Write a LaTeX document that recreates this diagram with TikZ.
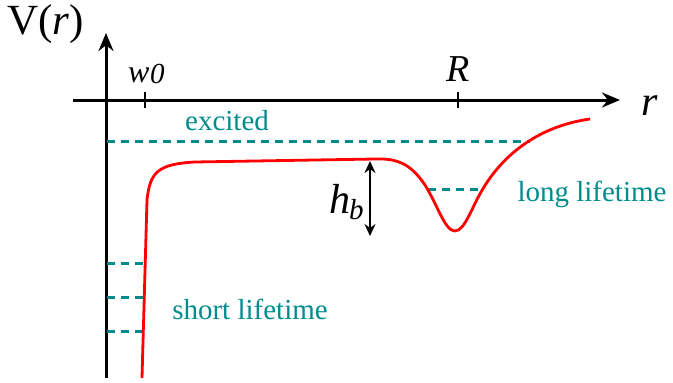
\documentclass[tikz,border=0pt]{standalone}
\usepackage{fontspec}
\setmainfont{Liberation Serif}
\newfontfamily\tms{Liberation Serif}
\usetikzlibrary{arrows.meta}
\definecolor{tealc}{RGB}{0,140,140}
\definecolor{redc}{RGB}{255,0,0}
\begin{document}
\begin{tikzpicture}[x=1pt,y=-1pt,
  axis/.style={line width=3pt,-{Stealth[length=18pt,width=15pt]}},
  tickline/.style={line width=2pt},
  lvl/.style={tealc,line width=3pt,dash pattern=on 8pt off 6pt},
  curve/.style={redc,line width=2.8pt},
  lab/.style={tealc,font=\tms\fontsize{29}{32}\selectfont,anchor=base,inner sep=0pt},
  sym/.style={inner sep=0pt},
  hbarrow/.style={line width=2.4pt,{Stealth[length=12pt,width=11pt]}-{Stealth[length=12pt,width=11pt]}}]
\useasboundingbox (0,0) rectangle (673,383);
% axes
\coordinate (ybot) at (106,378);
\coordinate (ytop) at (106,33);
\coordinate (xleft) at (73,100);
\coordinate (xright) at (620,100);
\draw[axis] (ybot) -- (ytop);
\draw[axis] (xleft) -- (xright);
% ticks
\coordinate (w0a) at (145,92); \coordinate (w0b) at (145,108);
\coordinate (Ra) at (458,92); \coordinate (Rb) at (458,108);
\draw[tickline] (w0a) -- (w0b);
\draw[tickline] (Ra) -- (Rb);
% labels
\node[sym,anchor=base west] (V) at (7,34) {\tms\fontsize{43}{48}\selectfont V(\textit{r})};
\node[sym,anchor=base west] (w0) at (128,82) {\tms\fontsize{32}{34}\selectfont\itshape w\kern0.5pt\raisebox{-1pt}{\fontsize{29}{30}\selectfont 0}};
\node[sym,anchor=base] (R) at (458,81) {\tms\fontsize{38}{42}\selectfont\itshape R};
\node[sym,anchor=base west] (r) at (641,115) {\tms\fontsize{42}{46}\selectfont\itshape r};
% levels
\coordinate (exA) at (107,141); \coordinate (exB) at (530,141);
\draw[lvl] (exA) -- (exB);
\coordinate (llA) at (428,189); \coordinate (llB) at (483,189);
\draw[lvl] (llA) -- (llB);
\coordinate (s1A) at (107,263); \coordinate (s1B) at (145,263);
\coordinate (s2A) at (107,297); \coordinate (s2B) at (145,297);
\coordinate (s3A) at (107,331); \coordinate (s3B) at (145,331);
\draw[lvl] (s1A) -- (s1B);
\draw[lvl] (s2A) -- (s2B);
\draw[lvl] (s3A) -- (s3B);
\node[lab] (excited) at (227,130) {excited};
\node[lab] (long) at (592,201) {long lifetime};
\node[lab] (short) at (250,319) {short lifetime};
% potential curve
\coordinate (c0) at (142,378);
\coordinate (c1) at (147,200);
\draw[curve] (c0) -- (c1)
  .. controls (150,172) and (158,164) .. (195,162)
  -- (375,159)
  .. controls (400,158) and (412,166) .. (425,185)
  .. controls (438,206) and (445,231) .. (455,231)
  .. controls (465,231) and (472,206) .. (484,187)
  .. controls (505,153) and (540,126) .. (590,119);
% barrier height
\coordinate (hbT) at (370,161); \coordinate (hbB) at (370,236);
\draw[hbarrow] (hbT) -- (hbB);
\node[sym,anchor=base west] (hb) at (329,213) {\tms\fontsize{42}{46}\selectfont\itshape h\kern-1pt\raisebox{-6pt}{\fontsize{29}{30}\selectfont b}};
\end{tikzpicture}
\end{document}
